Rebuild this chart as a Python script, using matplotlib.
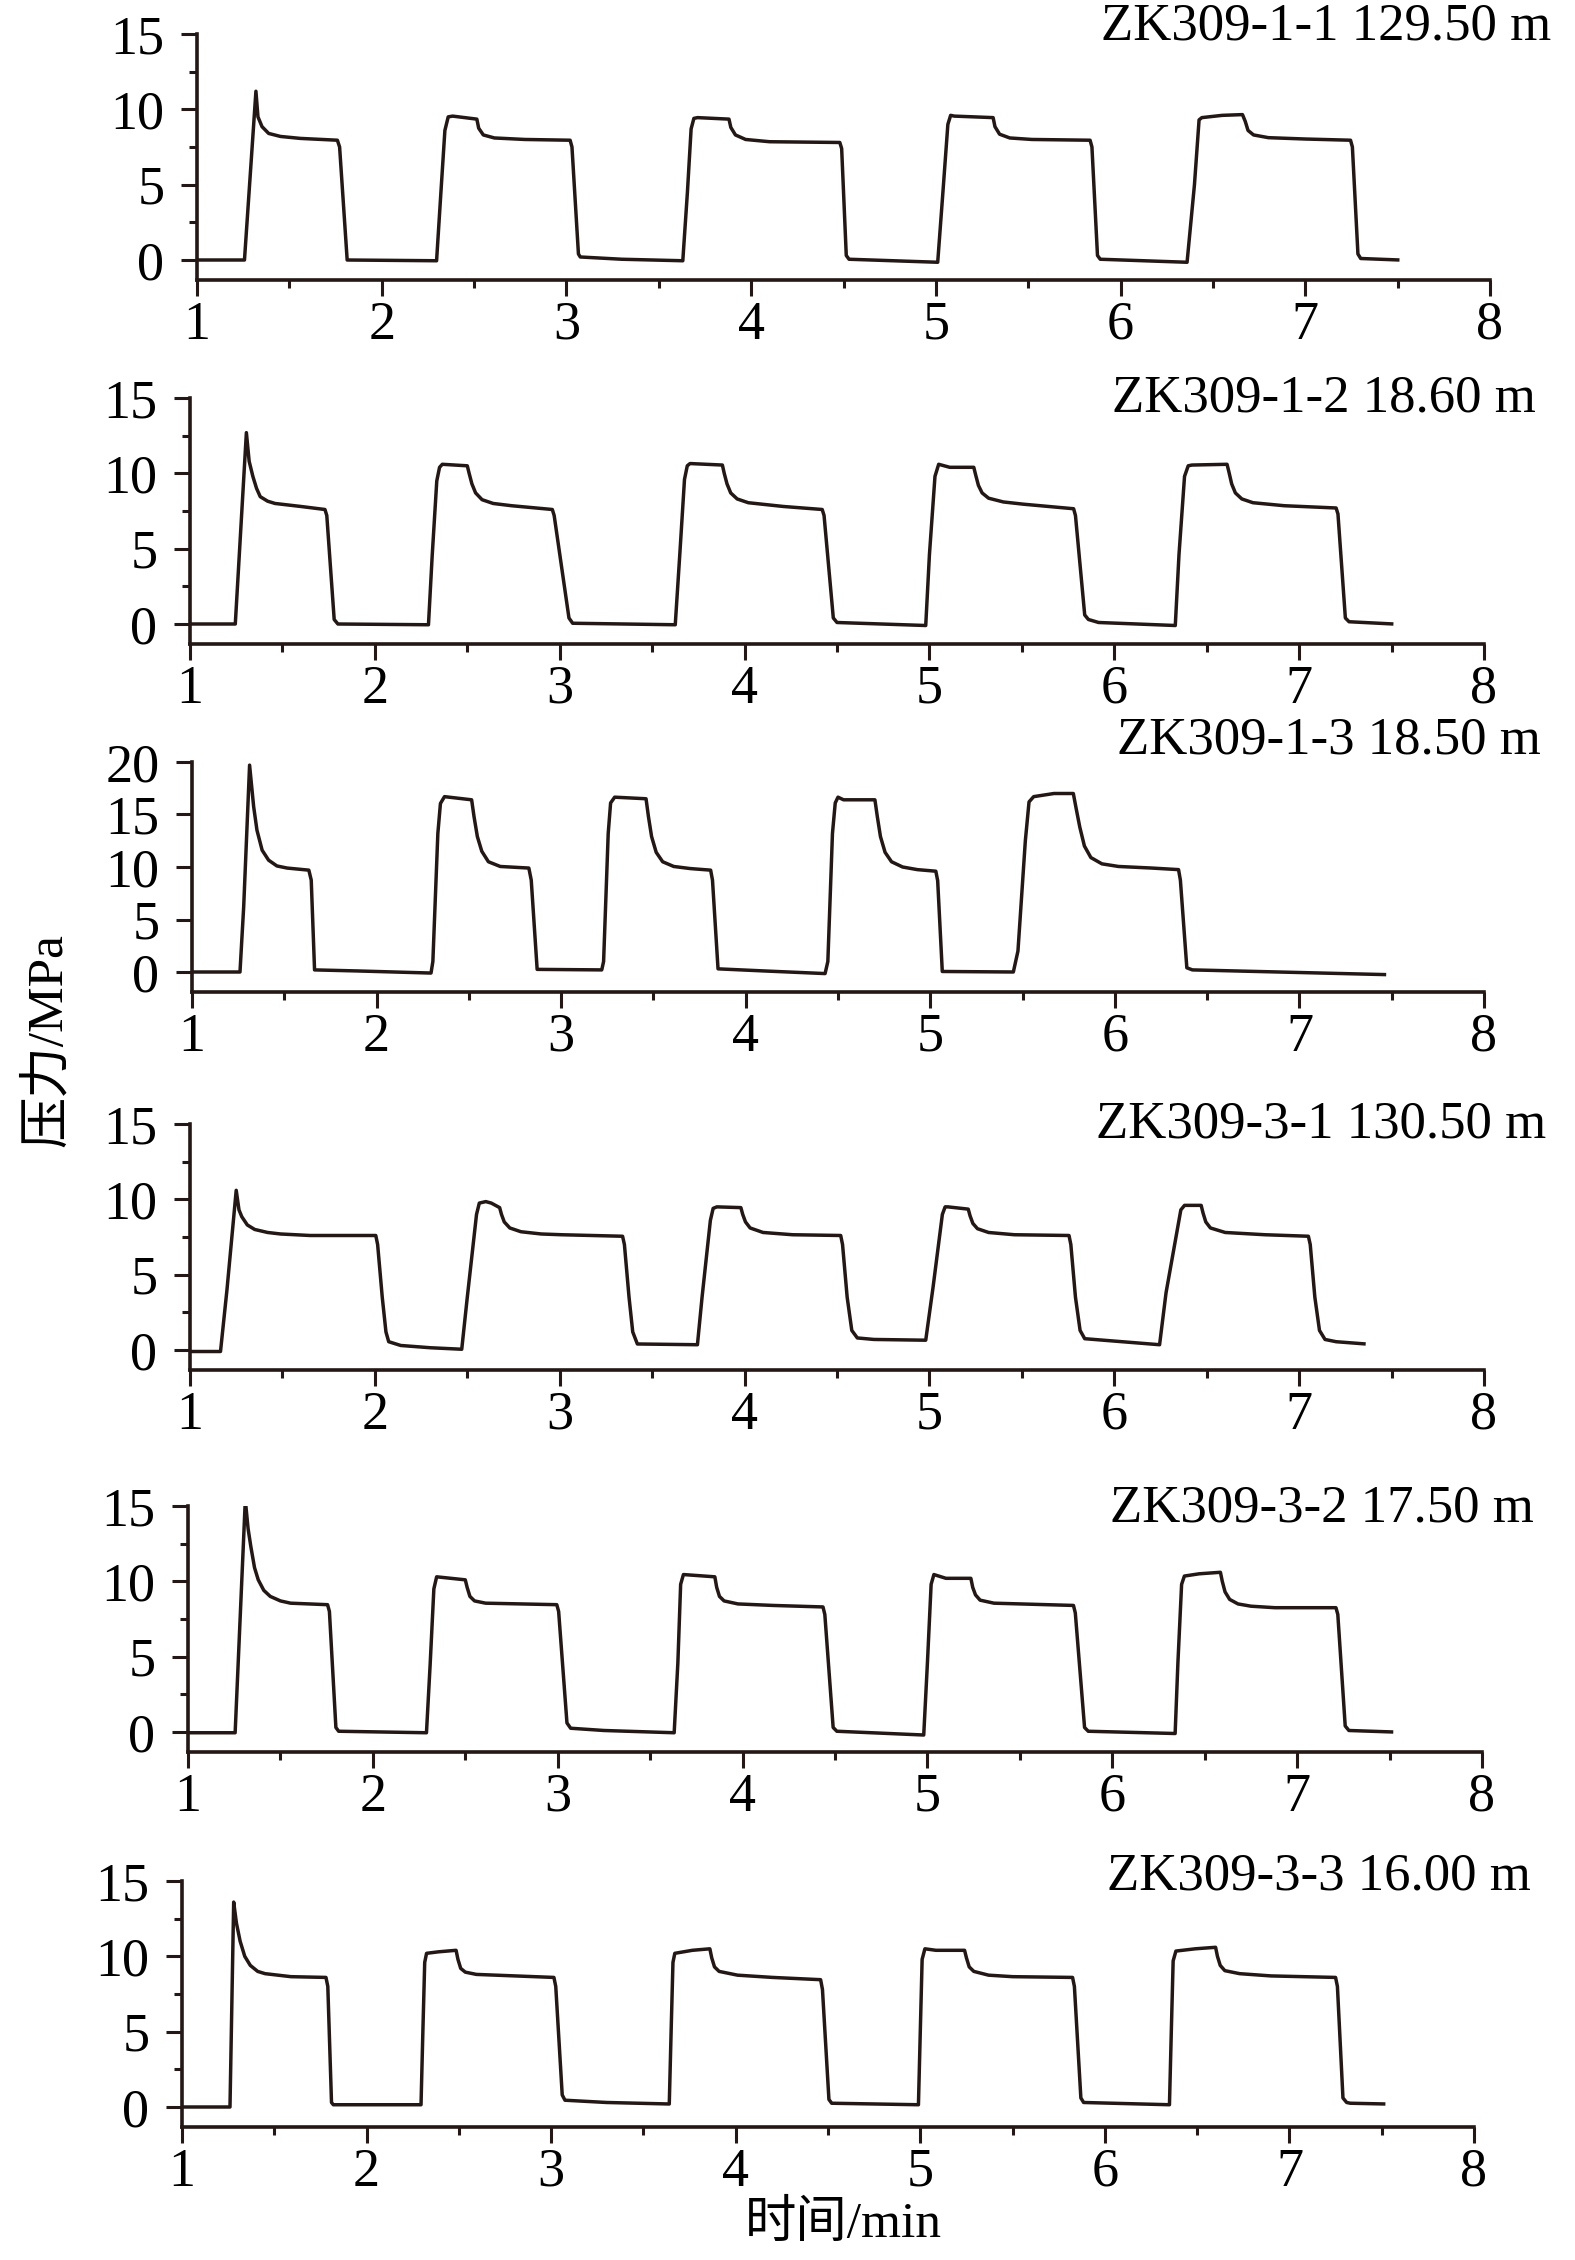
import matplotlib
matplotlib.use("Agg")
import matplotlib.pyplot as plt
from matplotlib.ticker import MultipleLocator

# (time in min, pressure in MPa)
zk1_1 = [(1.0, 0), (1.257, 0), (1.319, 11.2), (1.33, 9.5), (1.352, 8.85), (1.388, 8.4), (1.452, 8.2),
         (1.56, 8.07), (1.76, 7.95), (1.772, 7.5), (1.813, 0), (2.297, -0.05),
         (2.32, 4.4), (2.342, 8.6), (2.36, 9.5), (2.384, 9.55), (2.515, 9.35), (2.525, 8.75), (2.55, 8.3),
         (2.61, 8.1), (2.775, 8.0), (3.02, 7.95), (3.03, 7.5), (3.065, 0.4), (3.075, 0.2), (3.3, 0.05),
         (3.63, -0.05),
         (3.655, 4.5), (3.675, 8.7), (3.69, 9.4), (3.71, 9.45), (3.88, 9.35), (3.89, 8.8), (3.915, 8.3),
         (3.97, 8.0), (4.1, 7.85), (4.48, 7.8), (4.49, 7.4), (4.515, 0.3), (4.53, 0.05), (5.01, -0.15),
         (5.04, 4.8), (5.065, 9.0), (5.08, 9.6), (5.10, 9.55), (5.31, 9.45), (5.32, 8.85), (5.345, 8.35),
         (5.40, 8.1), (5.52, 8.0), (5.835, 7.95), (5.845, 7.5), (5.875, 0.3), (5.89, 0.05), (6.36, -0.15),
         (6.40, 5.0), (6.425, 9.3), (6.44, 9.45), (6.55, 9.6), (6.66, 9.65), (6.675, 9.2), (6.69, 8.6),
         (6.72, 8.3), (6.8, 8.12), (7.0, 8.03), (7.245, 7.95), (7.255, 7.5), (7.285, 0.4), (7.3, 0.1),
         (7.51, 0.0)]

zk1_2 = [(1.0, 0), (1.245, 0), (1.305, 12.7), (1.32, 10.8), (1.34, 9.8), (1.36, 9.0), (1.38, 8.45),
         (1.42, 8.15), (1.46, 8.0), (1.60, 7.8), (1.73, 7.6), (1.74, 7.2), (1.78, 0.3), (1.80, 0.0),
         (2.29, -0.05),
         (2.31, 4.5), (2.335, 9.5), (2.35, 10.4), (2.365, 10.6), (2.50, 10.5), (2.51, 10.0), (2.525, 9.3),
         (2.545, 8.7), (2.58, 8.25), (2.64, 8.0), (2.74, 7.85), (2.96, 7.6), (2.97, 7.2), (3.05, 0.4),
         (3.07, 0.05), (3.625, -0.05),
         (3.65, 4.7), (3.675, 9.6), (3.69, 10.5), (3.705, 10.65), (3.88, 10.55), (3.89, 10.0), (3.905, 9.3),
         (3.925, 8.7), (3.96, 8.3), (4.02, 8.05), (4.21, 7.8), (4.42, 7.6), (4.43, 7.2), (4.48, 0.4),
         (4.50, 0.1), (4.98, -0.1),
         (5.0, 4.6), (5.03, 9.8), (5.05, 10.6), (5.11, 10.4), (5.24, 10.4), (5.25, 9.9), (5.265, 9.2),
         (5.285, 8.7), (5.32, 8.35), (5.40, 8.1), (5.51, 7.95), (5.78, 7.65), (5.79, 7.2), (5.84, 0.6),
         (5.86, 0.3), (5.915, 0.1), (6.33, -0.1),
         (6.35, 4.6), (6.38, 9.8), (6.40, 10.5), (6.42, 10.55), (6.61, 10.6), (6.62, 10.1), (6.635, 9.3),
         (6.655, 8.7), (6.69, 8.3), (6.75, 8.05), (6.92, 7.85), (7.20, 7.7), (7.21, 7.3), (7.25, 0.4),
         (7.27, 0.15), (7.51, 0.0)]

zk1_3 = [(1.0, 0), (1.26, 0), (1.28, 6.2), (1.312, 19.7), (1.334, 15.75), (1.352, 13.5), (1.38, 11.6),
         (1.415, 10.65), (1.46, 10.1), (1.515, 9.9), (1.633, 9.7), (1.646, 8.75), (1.664, 0.2),
         (1.896, 0.1), (2.295, -0.1),
         (2.305, 1.0), (2.332, 13.2), (2.346, 16.05), (2.368, 16.7), (2.515, 16.4), (2.528, 14.8),
         (2.546, 12.9), (2.57, 11.5), (2.606, 10.5), (2.67, 10.05), (2.825, 9.9), (2.838, 8.75),
         (2.87, 0.25), (3.22, 0.2),
         (3.23, 1.0), (3.255, 13.2), (3.268, 16.1), (3.29, 16.65), (3.46, 16.5), (3.473, 14.8),
         (3.49, 12.9), (3.515, 11.4), (3.55, 10.5), (3.61, 10.05), (3.70, 9.85), (3.81, 9.7),
         (3.82, 8.75), (3.85, 0.3), (4.10, 0.1), (4.43, -0.15),
         (4.445, 1.0), (4.47, 13.2), (4.485, 16.1), (4.50, 16.65), (4.53, 16.4), (4.70, 16.4),
         (4.713, 14.8), (4.73, 12.9), (4.755, 11.4), (4.79, 10.5), (4.85, 10.0), (4.93, 9.75),
         (5.03, 9.6), (5.04, 8.7), (5.065, 0.05), (5.45, 0.0),
         (5.475, 2.0), (5.515, 12.5), (5.535, 16.2), (5.56, 16.7), (5.67, 17.0), (5.775, 17.0),
         (5.79, 15.6), (5.81, 13.8), (5.835, 12.0), (5.87, 10.9), (5.93, 10.3), (6.02, 10.05),
         (6.20, 9.9), (6.345, 9.75), (6.355, 8.75), (6.39, 0.4), (6.42, 0.2), (7.47, -0.25)]

zk3_1 = [(1.0, -0.1), (1.165, -0.1), (1.20, 4.0), (1.25, 10.6), (1.265, 9.3), (1.28, 8.85), (1.31, 8.3),
         (1.35, 8.0), (1.42, 7.8), (1.49, 7.7), (1.65, 7.6), (2.005, 7.6), (2.015, 7.0), (2.04, 3.5),
         (2.06, 1.2), (2.075, 0.55), (2.14, 0.3), (2.30, 0.15), (2.47, 0.05),
         (2.50, 3.5), (2.55, 9.0), (2.565, 9.75), (2.60, 9.85), (2.63, 9.75), (2.675, 9.45), (2.685, 9.0),
         (2.70, 8.5), (2.73, 8.1), (2.79, 7.85), (2.90, 7.7), (3.01, 7.65), (3.34, 7.55), (3.35, 7.0),
         (3.375, 3.5), (3.395, 1.2), (3.42, 0.4), (3.745, 0.35),
         (3.77, 3.5), (3.815, 8.6), (3.83, 9.4), (3.85, 9.5), (3.98, 9.45), (3.99, 9.0), (4.005, 8.5),
         (4.03, 8.1), (4.10, 7.8), (4.26, 7.65), (4.52, 7.6), (4.53, 7.0), (4.555, 3.5), (4.58, 1.3),
         (4.61, 0.8), (4.70, 0.7), (4.98, 0.65),
         (5.02, 4.2), (5.07, 9.0), (5.085, 9.5), (5.10, 9.5), (5.21, 9.35), (5.22, 8.9), (5.235, 8.4),
         (5.26, 8.05), (5.32, 7.8), (5.46, 7.65), (5.755, 7.6), (5.765, 7.0), (5.79, 3.5), (5.815, 1.3),
         (5.84, 0.75), (6.245, 0.35),
         (6.28, 3.8), (6.36, 9.3), (6.38, 9.6), (6.47, 9.6), (6.48, 9.1), (6.495, 8.5), (6.52, 8.1),
         (6.60, 7.8), (6.815, 7.65), (7.05, 7.55), (7.06, 7.0), (7.085, 3.5), (7.11, 1.3), (7.14, 0.7),
         (7.20, 0.55), (7.36, 0.4)]

zk3_2 = [(1.0, -0.05), (1.255, -0.05), (1.31, 15.4), (1.325, 13.5), (1.34, 12.3), (1.36, 10.9),
         (1.38, 10.1), (1.41, 9.4), (1.445, 9.0), (1.50, 8.7), (1.555, 8.55), (1.755, 8.45), (1.765, 8.0),
         (1.80, 0.3), (1.815, 0.05), (2.29, -0.05),
         (2.31, 4.5), (2.33, 9.5), (2.345, 10.3), (2.50, 10.1), (2.51, 9.6), (2.525, 9.0), (2.55, 8.7),
         (2.61, 8.55), (2.995, 8.45), (3.005, 8.0), (3.05, 0.6), (3.07, 0.25), (3.25, 0.1), (3.63, -0.05),
         (3.65, 4.6), (3.665, 9.8), (3.68, 10.45), (3.85, 10.3), (3.86, 9.6), (3.875, 9.0), (3.90, 8.7),
         (3.975, 8.5), (4.165, 8.4), (4.435, 8.3), (4.445, 7.8), (4.49, 0.3), (4.51, 0.05), (4.98, -0.2),
         (5.0, 4.6), (5.02, 9.8), (5.035, 10.45), (5.10, 10.2), (5.235, 10.2), (5.245, 9.6), (5.26, 9.1),
         (5.285, 8.75), (5.36, 8.55), (5.79, 8.4), (5.80, 7.9), (5.85, 0.3), (5.87, 0.05), (6.34, -0.1),
         (6.355, 4.6), (6.375, 9.8), (6.39, 10.35), (6.47, 10.5), (6.585, 10.6), (6.595, 10.0),
         (6.61, 9.3), (6.635, 8.8), (6.68, 8.5), (6.75, 8.35), (6.88, 8.25), (7.21, 8.25), (7.22, 7.8),
         (7.26, 0.4), (7.28, 0.1), (7.52, 0.0)]

zk3_3 = [(1.0, 0), (1.26, 0), (1.28, 13.6), (1.295, 12.2), (1.315, 11.0), (1.34, 10.0), (1.37, 9.4),
         (1.41, 9.0), (1.45, 8.85), (1.59, 8.65), (1.78, 8.6), (1.79, 8.0), (1.81, 0.3), (1.82, 0.15),
         (2.295, 0.15),
         (2.305, 5.0), (2.315, 9.6), (2.325, 10.2), (2.39, 10.3), (2.485, 10.4), (2.495, 9.8), (2.51, 9.2),
         (2.535, 8.95), (2.595, 8.8), (3.015, 8.6), (3.025, 8.0), (3.06, 0.8), (3.075, 0.45), (3.30, 0.3),
         (3.64, 0.2),
         (3.65, 5.0), (3.66, 9.6), (3.67, 10.2), (3.765, 10.4), (3.86, 10.5), (3.87, 9.9), (3.885, 9.3),
         (3.91, 9.0), (4.01, 8.75), (4.20, 8.6), (4.46, 8.45), (4.47, 7.8), (4.505, 0.5), (4.52, 0.25),
         (4.99, 0.15),
         (5.0, 5.0), (5.01, 9.8), (5.025, 10.5), (5.085, 10.4), (5.24, 10.4), (5.25, 9.9), (5.265, 9.3),
         (5.29, 9.0), (5.37, 8.75), (5.50, 8.65), (5.825, 8.6), (5.835, 8.0), (5.87, 0.6), (5.885, 0.3),
         (6.35, 0.15),
         (6.36, 5.0), (6.37, 9.7), (6.385, 10.35), (6.49, 10.5), (6.60, 10.6), (6.61, 10.0), (6.625, 9.4),
         (6.65, 9.05), (6.73, 8.85), (6.90, 8.7), (7.25, 8.6), (7.26, 8.0), (7.29, 0.6), (7.31, 0.3),
         (7.33, 0.25), (7.52, 0.2)]

labels = ["ZK309-1-1 129.50 m", "ZK309-1-2 18.60 m", "ZK309-1-3 18.50 m",
          "ZK309-3-1 130.50 m", "ZK309-3-2 17.50 m", "ZK309-3-3 16.00 m"]
series = [zk1_1, zk1_2, zk1_3, zk3_1, zk3_2, zk3_3]
ymax = [15, 15, 20, 15, 15, 15]

# panel boxes in pixels: left, right, top (ymax level), bottom (x spine)
boxes = [(197, 1490, 34, 280), (190, 1484, 398, 644), (192, 1484, 762, 992),
         (190, 1484, 1124, 1370), (188, 1482, 1506, 1752), (182, 1474, 1881, 2127)]
label_pos = [(1551, 27), (1536, 398), (1541, 741), (1546, 1124), (1534, 1508), (1531, 1877)]

W, H = 1575, 2260
fig = plt.figure(figsize=(W / 100, H / 100), dpi=100)
plt.rcParams['font.family'] = ['Liberation Serif', 'Noto Sans CJK SC']
col = '#231815'

for i in range(6):
    l, r, tp, bt = boxes[i]
    ax = fig.add_axes([l / W, 1 - bt / H, (r - l) / W, (bt - tp) / H])
    t = [a for a, b in series[i]]
    p = [b for a, b in series[i]]
    ax.plot(t, p, color=col, lw=2.5, solid_joinstyle='round', solid_capstyle='butt')
    # x spine sits 20 px under the zero line
    ppu = (bt - tp - 20) / ymax[i]
    ax.set_xlim(1, 8)
    ax.set_ylim(-20 / ppu, ymax[i])
    ax.spines['top'].set_visible(False)
    ax.spines['right'].set_visible(False)
    for s in ['left', 'bottom']:
        ax.spines[s].set_linewidth(2.6)
        ax.spines[s].set_color(col)
    ax.xaxis.set_major_locator(MultipleLocator(1))
    ax.xaxis.set_minor_locator(MultipleLocator(0.5))
    ax.yaxis.set_major_locator(MultipleLocator(5))
    if ymax[i] == 15:
        ax.yaxis.set_minor_locator(MultipleLocator(2.5))
    ax.tick_params(which='major', direction='out', length=11.5, width=2.2, color=col,
                   labelsize=39, labelcolor='black')
    ax.tick_params(which='minor', direction='out', length=6, width=2.2, color=col)
    ax.tick_params(axis='x', which='major', pad=3)
    ax.tick_params(axis='y', which='major', pad=12)
    ax.patch.set_alpha(0)
    lx, ly = label_pos[i]
    fig.text(lx / W, 1 - ly / H, labels[i], ha='right', va='center', fontsize=38)

fig.text(48 / W, 1 - 1040 / H, '压力/MPa', rotation=90, ha='center', va='center', fontsize=37)
fig.text(843 / W, 1 - 2224 / H, '时间/min', ha='center', va='center', fontsize=37)

fig.savefig('out.png', dpi=100)
